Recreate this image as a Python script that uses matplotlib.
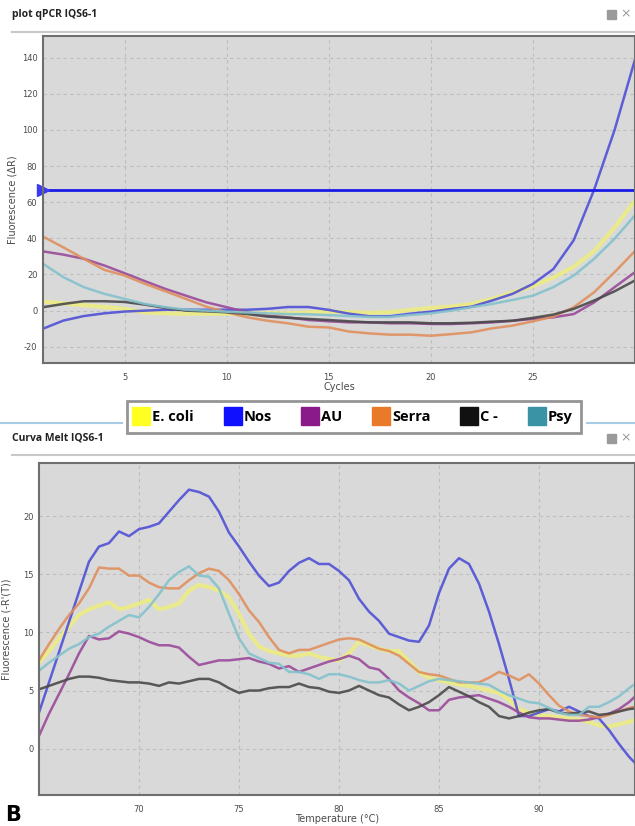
import matplotlib as mpl
mpl.use('Agg')
import matplotlib.pyplot as plt
from matplotlib.lines import Line2D
import numpy as np

mpl.rcParams['axes.unicode_minus'] = False

################## DATA ##################
#amplification curves (cycles 1..30)
cycles = [1, 2, 3, 4, 5, 6, 7, 8, 9, 10, 11, 12, 13, 14, 15,
          16, 17, 18, 19, 20, 21, 22, 23, 24, 25, 26, 27, 28, 29, 30]

amp_ecoli = [5, 4, 3, 2, 1, -1, -1.5, -1.7, -1.7, -1.7, -1.5, -1.5, -1.5, -1, -0.5,
             -0.9, -1.2, -0.9, 0.4, 1.5, 2.2, 3.7, 6.5, 10, 13.7, 18.3, 24.3, 33, 46, 61]
amp_nos = [-10, -5.5, -3, -1.5, -0.5, 0, 0.5, 0.5, 0.5, 0.5, 0.5, 1, 2, 2, 0.4,
           -1.7, -3.1, -3.1, -1.7, -0.6, 0.9, 2.2, 5.6, 9.3, 14.8, 23, 39, 67, 100, 139]
amp_au = [32.8, 31, 28.7, 25, 20.7, 16.3, 12, 8.3, 4.6, 1.9, -0.9, -2.8, -3.7, -5.2, -5.9,
          -6.5, -6.5, -7, -7, -7.4, -7.4, -7, -6.5, -5.6, -4.6, -3.7, -1.9, 4.6, 13, 21.3]
amp_serra = [41, 35, 28.7, 22.6, 19.4, 14.8, 10.7, 6.5, 2.2, -0.9, -3.7, -5.6, -7, -8.9, -9.3,
             -11.6, -12.6, -13.3, -13.3, -13.9, -13, -12, -9.8, -8.3, -5.9, -3.3, 1.9, 10.2, 21.3, 33]
amp_cneg = [1.9, 3.7, 5.2, 5.2, 4.8, 3.3, 1.5, 0, -0.4, -0.9, -1.9, -3.3, -4, -4.6, -5.2,
            -5.9, -6.5, -6.5, -6.5, -7, -7, -6.7, -6.1, -5.6, -4, -2.2, 1, 5.6, 10.7, 16.7]
amp_psy = [26, 18.5, 13, 9.3, 6.5, 3.7, 1.9, 0.5, 0, -0.6, -1, -1.5, -1.9, -2, -2.5,
           -3, -3.5, -3.5, -2.4, -1.5, 0, 1.9, 3.7, 5.9, 8.3, 13, 19.4, 28.7, 39.8, 52.8]

threshold = 67

#melt curves (65..95 C)
temps = [65.0, 65.5, 66.0, 66.5, 67.0, 67.5, 68.0, 68.5, 69.0, 69.5,
         70.0, 70.5, 71.0, 71.5, 72.0, 72.5, 73.0, 73.5, 74.0, 74.5,
         75.0, 75.5, 76.0, 76.5, 77.0, 77.5, 78.0, 78.5, 79.0, 79.5,
         80.0, 80.5, 81.0, 81.5, 82.0, 82.5, 83.0, 83.5, 84.0, 84.5,
         85.0, 85.5, 86.0, 86.5, 87.0, 87.5, 88.0, 88.5, 89.0, 89.5,
         90.0, 90.5, 91.0, 91.5, 92.0, 92.5, 93.0, 93.5, 94.0, 94.5, 95.0]

melt_ecoli = [7.4, 8.4, 9.5, 10.5, 11.5, 12.0, 12.3, 12.6, 12.0, 12.2,
              12.5, 12.8, 12.0, 12.2, 12.5, 13.6, 14.1, 13.9, 13.6, 13.0,
              11.6, 9.9, 8.8, 8.4, 8.2, 8.0, 8.0, 8.2, 7.9, 7.7,
              7.6, 8.2, 9.2, 8.9, 8.6, 8.4, 8.4, 7.5, 6.6, 6.1,
              5.9, 5.7, 5.5, 5.4, 5.2, 5.0, 4.8, 4.2, 3.4, 3.1,
              2.9, 2.8, 2.7, 2.6, 2.5, 2.3, 2.0, 1.9, 2.1, 2.3, 2.6]
melt_nos = [3.1, 5.7, 8.3, 10.9, 13.5, 16.1, 17.4, 17.7, 18.7, 18.3,
            18.9, 19.1, 19.4, 20.4, 21.4, 22.3, 22.1, 21.7, 20.4, 18.6,
            17.4, 16.1, 14.9, 14.0, 14.3, 15.3, 16.0, 16.4, 15.9, 15.9,
            15.3, 14.5, 12.9, 11.8, 11.0, 9.9, 9.6, 9.3, 9.2, 10.6,
            13.4, 15.5, 16.4, 15.9, 14.2, 11.8, 9.0, 6.0, 2.8, 2.8,
            3.1, 3.4, 3.2, 3.6, 3.2, 2.8, 2.6, 1.6, 0.4, -0.7, -1.6]
melt_au = [1.1, 3.0, 4.7, 6.4, 8.2, 9.7, 9.4, 9.5, 10.1, 9.9,
           9.6, 9.2, 8.9, 8.9, 8.7, 7.9, 7.2, 7.4, 7.6, 7.6,
           7.7, 7.8, 7.5, 7.3, 6.9, 7.1, 6.6, 6.9, 7.2, 7.5,
           7.7, 8.0, 7.7, 7.0, 6.8, 6.0, 5.0, 4.4, 3.9, 3.3,
           3.3, 4.2, 4.4, 4.5, 4.6, 4.3, 4.0, 3.6, 3.1, 2.7,
           2.6, 2.6, 2.5, 2.4, 2.4, 2.5, 2.7, 3.0, 3.4, 4.0, 4.8]
melt_serra = [7.6, 9.0, 10.3, 11.5, 12.5, 13.8, 15.6, 15.5, 15.5, 14.9,
              14.9, 14.3, 13.9, 13.8, 13.8, 14.5, 15.1, 15.5, 15.3, 14.5,
              13.3, 11.9, 10.9, 9.6, 8.5, 8.2, 8.5, 8.5, 8.8, 9.1,
              9.4, 9.5, 9.4, 9.0, 8.6, 8.4, 8.0, 7.3, 6.6, 6.4,
              6.3, 6.0, 5.7, 5.7, 5.7, 6.1, 6.6, 6.3, 5.9, 6.4,
              5.6, 4.6, 3.7, 3.2, 2.9, 2.8, 2.7, 2.9, 3.2, 3.5, 3.7]
melt_cneg = [5.1, 5.4, 5.7, 6.0, 6.2, 6.2, 6.1, 5.9, 5.8, 5.7,
             5.7, 5.6, 5.4, 5.7, 5.6, 5.8, 6.0, 6.0, 5.7, 5.2,
             4.8, 5.0, 5.0, 5.2, 5.3, 5.3, 5.6, 5.3, 5.2, 4.9,
             4.8, 5.0, 5.4, 5.0, 4.6, 4.4, 3.8, 3.3, 3.6, 4.0,
             4.6, 5.3, 4.9, 4.5, 4.0, 3.6, 2.8, 2.6, 2.8, 3.1,
             3.3, 3.4, 3.1, 3.0, 3.1, 3.2, 2.9, 3.0, 3.2, 3.4, 3.5]
melt_psy = [6.7, 7.4, 8.0, 8.6, 9.0, 9.6, 9.9, 10.5, 11.0, 11.5,
            11.3, 12.2, 13.3, 14.5, 15.2, 15.7, 14.9, 14.8, 13.8, 11.6,
            9.5, 8.2, 7.8, 7.4, 7.3, 6.6, 6.6, 6.4, 6.0, 6.4,
            6.4, 6.2, 5.9, 5.7, 5.7, 5.9, 5.6, 5.0, 5.4, 5.8,
            6.0, 5.9, 5.8, 5.7, 5.6, 5.5, 5.0, 4.6, 4.3, 4.0,
            3.9, 3.5, 3.1, 2.9, 2.9, 3.6, 3.6, 4.0, 4.5, 5.2, 5.8]

names = ['E. coli', 'Nos', 'AU', 'Serra', 'C -', 'Psy']
#line colours in the plots
line_cols = ['#ecec84', '#5050d6', '#9a4a9a', '#e0905e', '#4a4a4a', '#84c2cc']
line_w = [3.0, 1.8, 1.8, 1.8, 1.8, 1.8]
#swatch colours in the legend
key_cols = ['#ffff22', '#1010ff', '#8a1a8a', '#e87a2a', '#111111', '#3a93a5']

amp = [amp_ecoli, amp_nos, amp_au, amp_serra, amp_cneg, amp_psy]
melt = [melt_ecoli, melt_nos, melt_au, melt_serra, melt_cneg, melt_psy]

BG = '#d9d9d9'
TXT = '#4a4a4a'

fig = plt.figure(figsize=(6.35, 8.26), dpi=100)
fig.patch.set_facecolor('white')

def style_ax(ax):
	ax.set_facecolor(BG)
	for sp in ax.spines.values():
		sp.set_color('#6e6e6e')
		sp.set_linewidth(1.5)
	ax.grid(True, color='#bdbdbd', linestyle=(0, (3, 3)), linewidth=0.8)
	ax.set_axisbelow(True)
	ax.tick_params(length=0, labelsize=6, labelcolor=TXT)
	ax.tick_params(axis='y', pad=4)
	ax.tick_params(axis='x', pad=7)

################## AMPLIFICATION PLOT ##################
ax1 = fig.add_axes([0.0677, 0.5605, 0.9323, 0.3959])
style_ax(ax1)
for i in range(len(names)):
	ax1.plot(cycles, amp[i], color=line_cols[i], lw=line_w[i], alpha=0.9)
ax1.axhline(threshold, color='#1a1ae6', lw=2)
ax1.plot([1], [threshold], marker='>', color='#3a3af0', markersize=9, clip_on=False)
ax1.set_xlim(1, 30)
ax1.set_ylim(-29, 152)
ax1.set_xticks([5, 10, 15, 20, 25])
ax1.set_yticks([-20, 0, 20, 40, 60, 80, 100, 120, 140])
ax1.set_xlabel('Cycles', fontsize=7, color=TXT, labelpad=0)
ax1.set_ylabel('Fluorescence (\u0394R)', fontsize=7, color=TXT, labelpad=3)

################## MELT CURVE ##################
ax2 = fig.add_axes([0.0614, 0.0375, 0.9386, 0.402])
style_ax(ax2)
for i in range(len(names)):
	ax2.plot(temps, melt[i], color=line_cols[i], lw=line_w[i], alpha=0.9)
ax2.set_xlim(65, 94.8)
ax2.set_ylim(-4, 24.6)
ax2.set_xticks([70, 75, 80, 85, 90])
ax2.set_yticks([0, 5, 10, 15, 20])
ax2.set_xlabel('Temperature (\u00b0C)', fontsize=7, color=TXT, labelpad=0)
ax2.set_ylabel("Fluorescence (-R'(T))", fontsize=7, color=TXT, labelpad=8)

################## PANEL DECORATION ##################
fig.text(12/635, 1-14/826, 'plot qPCR IQS6-1', fontsize=7.5, fontweight='bold',
	color='#222222', family='Open Sans', va='center')
fig.text(12/635, 1-438/826, 'Curva Melt IQS6-1', fontsize=7.5, fontweight='bold',
	color='#222222', family='Open Sans', va='center')
fig.add_artist(Line2D([12/635, 1], [1-32/826]*2, color='#c8c8c8', lw=1.5))
fig.add_artist(Line2D([12/635, 1], [1-455/826]*2, color='#c8c8c8', lw=1.5))
fig.add_artist(Line2D([0, 122/635], [1-423/826]*2, color='#a9cbe3', lw=1.5))
fig.add_artist(Line2D([587/635, 1], [1-423/826]*2, color='#a9cbe3', lw=1.5))
for yy in [14, 438]:
	fig.add_artist(plt.Rectangle((607/635, 1-(yy+5)/826), 9/635, 9/826,
		color='#9a9a9a', transform=fig.transFigure))
	fig.text(620/635, 1-yy/826, '\u00d7', fontsize=9, color='#9a9a9a', va='center')
fig.text(5/635, 1-815/826, 'B', fontsize=15, fontweight='bold', va='center')

#legend
handles = [Line2D([], [], ls='none', marker='s', markersize=13,
	markerfacecolor=key_cols[i], markeredgecolor=key_cols[i]) for i in range(len(names))]
leg = fig.legend(handles, names, loc='center', bbox_to_anchor=(354/635, 1-417/826),
	ncol=6, frameon=True, fancybox=False, handlelength=0.8, handletextpad=0.35,
	columnspacing=2.25, borderpad=0.6, borderaxespad=0,
	prop={'family': 'Open Sans', 'weight': 'bold', 'size': 10.5})
leg.get_frame().set_edgecolor('#7a7a7a')
leg.get_frame().set_linewidth(2)

fig.savefig('out.png', dpi=100)
